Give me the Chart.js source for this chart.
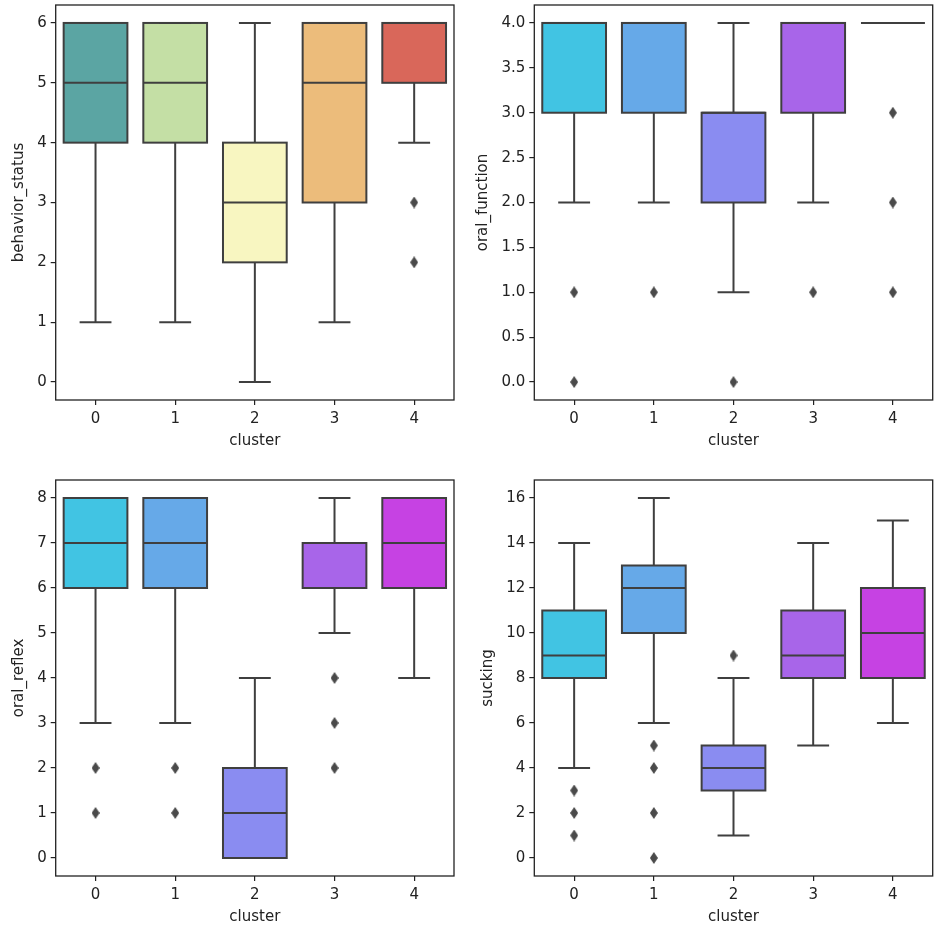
<!DOCTYPE html>
<html>
<head>
<meta charset="utf-8">
<title>cluster boxplots</title>
<script src="https://cdn.jsdelivr.net/npm/chart.js@4.4.0/dist/chart.umd.min.js"></script>
<style>
  html, body { margin: 0; padding: 0; background: #fff; }
  canvas { position: absolute; }
</style>
</head>
<body>
<canvas id="chartBehavior" width="470" height="466" style="left:0;top:0"></canvas>
<canvas id="chartOralFunction" width="470" height="466" style="left:470px;top:0"></canvas>
<canvas id="chartOralReflex" width="470" height="467" style="left:0;top:466px"></canvas>
<canvas id="chartSucking" width="470" height="467" style="left:470px;top:466px"></canvas>
<script>
// categorias del eje x
const clusters = ['0', '1', '2', '3', '4'];

// cada fila: [bigote inferior, q1, mediana, q3, bigote superior]
const behaviorStats = [[1, 4, 5, 6, 6], [1, 4, 5, 6, 6], [0, 2, 3, 4, 6], [1, 3, 5, 6, 6], [4, 5, 6, 6, 6]];
const behaviorOutliers = [[], [], [], [], [3, 2]];
const behaviorTicks = [0, 1, 2, 3, 4, 5, 6];

const oralFunctionStats = [[2, 3, 4, 4, 4], [2, 3, 4, 4, 4], [1, 2, 3, 3, 4], [2, 3, 4, 4, 4], [4, 4, 4, 4, 4]];
const oralFunctionOutliers = [[1, 0], [1], [0], [1], [3, 2, 1]];
const oralFunctionTicks = [0, 0.5, 1, 1.5, 2, 2.5, 3, 3.5, 4];

const oralReflexStats = [[3, 6, 7, 8, 8], [3, 6, 7, 8, 8], [0, 0, 1, 2, 4], [5, 6, 7, 7, 8], [4, 6, 7, 8, 8]];
const oralReflexOutliers = [[2, 1], [2, 1], [], [4, 3, 2], []];
const oralReflexTicks = [0, 1, 2, 3, 4, 5, 6, 7, 8];

const suckingStats = [[4, 8, 9, 11, 14], [6, 10, 12, 13, 16], [1, 3, 4, 5, 8], [5, 8, 9, 11, 14], [6, 8, 10, 12, 15]];
const suckingOutliers = [[3, 2, 1], [5, 4, 2, 0], [9], [], []];
const suckingTicks = [0, 2, 4, 6, 8, 10, 12, 14, 16];

const spectralColors = ['#5ba5a3', '#c4dfa5', '#f8f6c1', '#ecbc7b', '#d9675a'];
const coolColors = ['#41c4e3', '#66a9e8', '#8a8cf1', '#a865e9', '#c642e3'];

const LINE = '#3f3f3f';
const FONT = 'DejaVu Sans';

function hacerRombo(w, h, color) {
  const c = document.createElement('canvas');
  c.width = w; c.height = h;
  const g = c.getContext('2d');
  g.fillStyle = color;
  g.beginPath();
  g.moveTo(w / 2, 0); g.lineTo(w, h / 2); g.lineTo(w / 2, h); g.lineTo(0, h / 2);
  g.closePath(); g.fill();
  return c;
}
const rombo = hacerRombo(8, 12, '#4a4a4a');

// contorno de caja, bigotes, topes, medianas y marco del area
const boxExtras = {
  id: 'boxExtras',
  afterDatasetsDraw(chart, args, opts) {
    const ctx = chart.ctx;
    const y = chart.scales.y;
    const meta = chart.getDatasetMeta(0);
    ctx.save();
    ctx.strokeStyle = LINE;
    ctx.lineWidth = 2;
    ctx.lineCap = 'butt';
    const linea = (x1, y1, x2, y2) => { ctx.beginPath(); ctx.moveTo(x1, y1); ctx.lineTo(x2, y2); ctx.stroke(); };
    meta.data.forEach((bar, i) => {
      const [lo, q1, med, q3, hi] = opts.stats[i];
      const x = bar.x, w = bar.width;
      linea(x, y.getPixelForValue(lo), x, y.getPixelForValue(q1));
      linea(x, y.getPixelForValue(q3), x, y.getPixelForValue(hi));
      linea(x - w / 4, y.getPixelForValue(lo), x + w / 4, y.getPixelForValue(lo));
      linea(x - w / 4, y.getPixelForValue(hi), x + w / 4, y.getPixelForValue(hi));
      const yTop = y.getPixelForValue(q3), yBot = y.getPixelForValue(q1);
      ctx.strokeRect(x - w / 2, yTop, w, yBot - yTop);
      linea(x - w / 2, y.getPixelForValue(med), x + w / 2, y.getPixelForValue(med));
    });
    const a = chart.chartArea;
    ctx.strokeStyle = '#222';
    ctx.lineWidth = 1.3;
    ctx.strokeRect(a.left, a.top, a.right - a.left, a.bottom - a.top);
    ctx.restore();
  }
};

function crearBoxplot(id, cfg) {
  const outPts = [];
  cfg.outliers.forEach((vals, i) => vals.forEach(v => outPts.push({ x: clusters[i], y: v })));
  const lo = cfg.ticks[0], hi = cfg.ticks[cfg.ticks.length - 1];
  const margen = (hi - lo) * 0.05;
  return new Chart(document.getElementById(id), {
    type: 'bar',
    data: {
      labels: clusters,
      datasets: [{
        data: cfg.stats.map(s => [s[1], s[3]]),
        backgroundColor: cfg.colors,
        borderWidth: 0,
        barPercentage: 0.8,
        categoryPercentage: 1
      }, {
        type: 'scatter',
        data: outPts,
        pointStyle: rombo,
        pointRadius: 5,
        backgroundColor: '#4a4a4a'
      }]
    },
    options: {
      responsive: false,
      animation: false,
      events: [],
      layout: { autoPadding: false, padding: cfg.padding },
      plugins: { legend: { display: false }, tooltip: { enabled: false }, boxExtras: { stats: cfg.stats } },
      scales: {
        x: {
          type: 'category',
          offset: true,
          grid: { display: true, offset: false, drawOnChartArea: false, drawTicks: true, tickLength: 5, color: '#222', lineWidth: 1.2 },
          border: { display: false },
          ticks: { color: '#222', padding: 5, font: { family: FONT, size: 15 } },
          title: { display: true, text: 'cluster', color: '#222', padding: { top: 0, bottom: 0 }, font: { family: FONT, size: 15 } },
          afterFit(scale) { scale.height = 50; scale.paddingLeft = 0; scale.paddingRight = 0; }
        },
        y: {
          type: 'linear',
          min: lo - margen,
          max: hi + margen,
          grid: { display: true, drawOnChartArea: false, drawTicks: true, tickLength: 5, color: '#222', lineWidth: 1.2 },
          border: { display: false },
          afterBuildTicks(scale) { scale.ticks = cfg.ticks.map(v => ({ value: v })); },
          ticks: {
            color: '#222', padding: 4, font: { family: FONT, size: 15 },
            callback: v => cfg.decimals ? Number(v).toFixed(cfg.decimals) : String(v)
          },
          title: { display: true, text: cfg.label, color: '#222', padding: { top: cfg.titlePad, bottom: 0 }, font: { family: FONT, size: 15 } },
          afterFit(scale) { scale.width = cfg.axisWidth; scale.paddingTop = 0; scale.paddingBottom = 0; }
        }
      }
    },
    plugins: [boxExtras]
  });
}

crearBoxplot('chartBehavior', {
  stats: behaviorStats, outliers: behaviorOutliers, ticks: behaviorTicks, colors: spectralColors,
  label: 'behavior_status', decimals: 0, axisWidth: 55.7, titlePad: 10,
  padding: { left: 0, top: 5, right: 16, bottom: 16 }
});
crearBoxplot('chartOralFunction', {
  stats: oralFunctionStats, outliers: oralFunctionOutliers, ticks: oralFunctionTicks, colors: coolColors,
  label: 'oral_function', decimals: 1, axisWidth: 64.3, titlePad: 4.3,
  padding: { left: 0, top: 5, right: 7.3, bottom: 16 }
});
crearBoxplot('chartOralReflex', {
  stats: oralReflexStats, outliers: oralReflexOutliers, ticks: oralReflexTicks, colors: coolColors,
  label: 'oral_reflex', decimals: 0, axisWidth: 55.7, titlePad: 10.5,
  padding: { left: 0, top: 14, right: 16, bottom: 7 }
});
crearBoxplot('chartSucking', {
  stats: suckingStats, outliers: suckingOutliers, ticks: suckingTicks, colors: coolColors,
  label: 'sucking', decimals: 0, axisWidth: 64.3, titlePad: 9,
  padding: { left: 0, top: 14, right: 7.3, bottom: 7 }
});
</script>
</body>
</html>
